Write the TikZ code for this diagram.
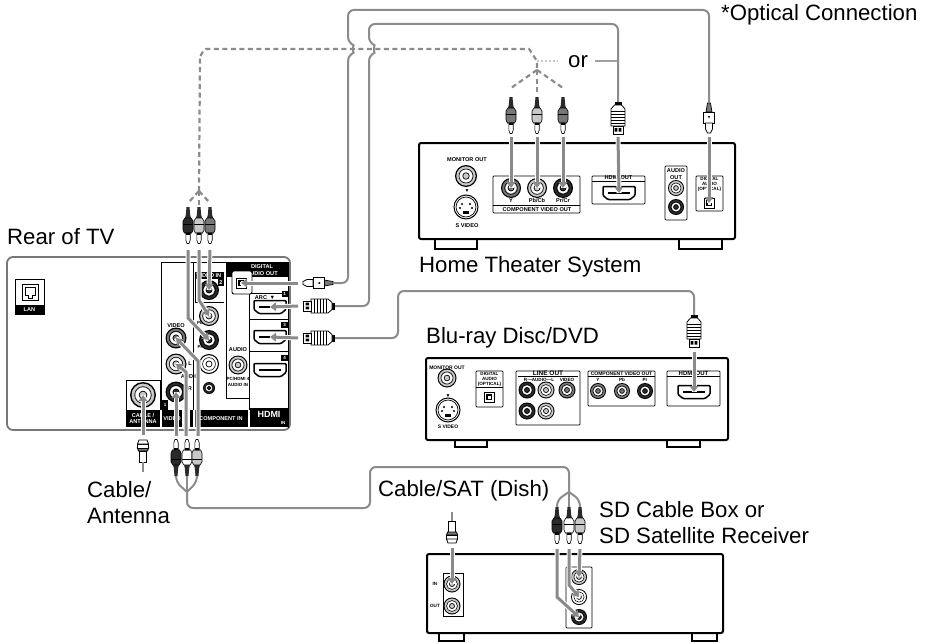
\documentclass[tikz,border=0pt]{standalone}
\usepackage{fontspec}
\setmainfont{Liberation Sans}
\usetikzlibrary{arrows.meta}
\definecolor{cab}{HTML}{8C8C8C}
\definecolor{arr}{HTML}{8A8A8A}
\definecolor{dk}{HTML}{2A2A2A}
\definecolor{md}{HTML}{777777}
\definecolor{lt}{HTML}{C8C8C8}
\tikzset{
  cable/.style={draw=cab,line width=2pt,rounded corners=6pt},
  dcable/.style={draw=cab,line width=2.2pt,dash pattern=on 5pt off 3.5pt},
  inarrow/.style={draw=arr,line width=3pt,-{Triangle[length=6pt,width=8.5pt]},
     preaction={draw=white,line width=5pt,-}},
  panel/.style={draw=black,line width=.7pt,rounded corners=.8pt},
  chassis/.style={draw=black,line width=2pt,rounded corners=2pt},
  chassisfoot/.style={draw=black,line width=1.6pt},
  big/.style={font=\fontsize{22.2}{24}\selectfont,inner sep=0pt,anchor=base west},
  tiny/.style={font=\fontsize{5.6}{6.2}\selectfont\bfseries,inner sep=0pt,align=center,text=black},
  tinyw/.style={font=\fontsize{5.6}{6.2}\selectfont\bfseries,inner sep=0pt,align=center,text=white},
}
% name x y r ringcolour
\newcommand{\jack}[5]{%
  \coordinate (#1) at (#2,#3);
  \fill[black] (#1) circle[radius=#4];
  \fill[#5] (#1) circle[radius=#4*.88];
  \draw[black,line width=.6pt] (#1) circle[radius=#4*.64];
  \fill[white] (#1) circle[radius=#4*.56];
  \draw[black,line width=.7pt,fill=#5] (#1) circle[radius=#4*.3];
}
% name x y rot fill
\newcommand{\rcaplug}[5]{%
  \coordinate (#1) at (#2,#3);
  \begin{scope}[shift={(#2,#3)},rotate=#4]
    \fill[dk] (-1.5,0) -- (1.5,0) -- (2.2,8) -- (3,11) -- (-3,11) -- (-2.2,8) -- cycle;
    \draw[black,line width=.6pt,fill=#5] (-3,11) -- (3,11) -- (5,14) -- (5,23) -- (3.6,26) -- (-3.6,26) -- (-5,23) -- (-5,14) -- cycle;
    \draw[black,line width=.5pt] (-5,17) -- (5,17);
    \draw[black,line width=.6pt,fill=white] (-2.2,26) -- (2.2,26) -- (2.2,33) -- (1,36.5) -- (-1,36.5) -- (-2.2,33) -- cycle;
    \fill[black] (-2.2,26) rectangle (2.2,28);
  \end{scope}}
% name x y rot
\newcommand{\hdmiplug}[4]{%
  \coordinate (#1) at (#2,#3);
  \begin{scope}[shift={(#2,#3)},rotate=#4]
    \fill[black] (-3.5,0) rectangle (3.5,3);
    \draw[black,line width=.8pt,fill=white] (-3.5,3) -- (3.5,3) -- (7,7) -- (7,24) -- (-7,24) -- (-7,7) -- cycle;
    \foreach \yy in {9,12,15,18,21}{\draw[black,line width=.7pt] (-7,\yy) -- (7,\yy);}
    \draw[black,line width=.8pt,fill=white] (-5,24) rectangle (5,32);
    \fill[black] (-3.4,26) rectangle (-.6,29.5) (.6,26) rectangle (3.4,29.5);
  \end{scope}}
% name x y rot
\newcommand{\optplug}[4]{%
  \coordinate (#1) at (#2,#3);
  \begin{scope}[shift={(#2,#3)},rotate=#4]
    \draw[black,line width=.7pt,fill=md] (-1.5,0) -- (1.5,0) -- (3,9) -- (-3,9) -- cycle;
    \draw[black,line width=.8pt,fill=white] (-5.5,9) rectangle (5.5,20);
    \draw[black,line width=.8pt,fill=white] (-3.5,20) -- (3.5,20) -- (3.5,26) -- (1.5,30) -- (-1.5,30) -- (-3.5,26) -- cycle;
    \fill[black] (-1,13) -- (1,13) -- (0,15.5) -- cycle;
  \end{scope}}
% name x y rot
\newcommand{\fplug}[4]{%
  \coordinate (#1) at (#2,#3);
  \begin{scope}[shift={(#2,#3)},rotate=#4]
    \draw[black,line width=.8pt,fill=white] (-3.5,0) rectangle (3.5,11);
    \draw[black,line width=.8pt,fill=md] (-4.5,11) -- (4.5,11) -- (5.5,14) -- (-5.5,14) -- cycle;
    \draw[black,line width=.8pt,fill=white] (-5.5,14) rectangle (5.5,18);
    \draw[black,line width=.8pt,fill=white] (-5.5,18) -- (5.5,18) -- (4,22) -- (-4,22) -- cycle;
  \end{scope}}
% x y : hdmi port
\newcommand{\hdmiport}[3]{%
  \coordinate (#1) at (#2,#3);
  \begin{scope}[shift={(#2,#3)}]
    \draw[black,line width=1.5pt,fill=white,rounded corners=1pt] (-16,-6.5) -- (16,-6.5) -- (16,2.5) -- (11,6.5) -- (-11,6.5) -- (-16,2.5) -- cycle;
    \fill[black] (-11,-.8) rectangle (11,1.2);
  \end{scope}}
\newcommand{\svid}[3]{%
  \coordinate (#1) at (#2,#3);
  \begin{scope}[shift={(#2,#3)}]
    \draw[black,line width=1pt,fill=white] (0,0) circle[radius=12];
    \draw[black,line width=.7pt] (0,0) circle[radius=10];
    \foreach \a/\b in {-4/-3,4/-3,-6/1,6/1}{\fill[black] (\a,\b) circle[radius=1.1];}
    \fill[black] (-3,4) rectangle (3,7);
  \end{scope}}
\newcommand{\optport}[3]{%
  \coordinate (#1) at (#2,#3);
  \draw[black,line width=1pt,fill=white] (#2-5,#3-5) rectangle (#2+5,#3+5);
  \fill[black] (#2-3,#3-3) rectangle (#2+3,#3+3);
  \fill[white] (#2-1.5,#3-1.5) rectangle (#2+1.5,#3+1.5);
}
\begin{document}
\begin{tikzpicture}[x=1pt,y=-1pt]
\useasboundingbox[fill=white] (0,0) rectangle (925,642);

% ===== Rear of TV
\node[big] (ltv) at (7,244) {Rear of TV};
\draw[draw=md,line width=1.8pt,rounded corners=6pt] (7,257) rectangle (290,430);
% LAN
\draw[black,line width=.8pt] (15,279) rectangle (44,314);
\fill[black] (15,305) rectangle (44,314);
\node[tinyw] (llan) at (29.5,310) {LAN};
\draw[black,line width=1pt] (22,284) rectangle (38,300);
\draw[black,line width=.7pt] (25,287) -- (35,287) -- (35,295) -- (32,295) -- (32,298) -- (28,298) -- (28,295) -- (25,295) -- cycle;
% panel outlines
\draw[black,line width=.8pt] (161,262) -- (161,410);
\draw[black,line width=.8pt] (161,262) -- (227,262);
\draw[black,line width=.8pt] (193,262) -- (193,410);
\draw[black,line width=.8pt] (226,262) -- (226,398) -- (249,398);
\draw[black,line width=.8pt] (249,294) -- (249,410);
\draw[black,line width=.8pt] (288,262) -- (288,428);
\fill[black] (227,262) rectangle (288,277);
\node[tinyw] (ldig) at (262,270) {DIGITAL\\AUDIO OUT};
\draw[black,line width=.8pt] (249,293) -- (288,293);
\draw[black,line width=.8pt] (249,319) -- (288,319);
\draw[black,line width=.8pt] (249,351) -- (288,351);
% video in 2
\fill[black] (195,272) rectangle (224,279);
\node[tinyw] (lvin) at (209,276) {VIDEO IN};
\fill[black] (218,279) rectangle (224,286);
\node[tinyw] (l2) at (221,283) {2};
\draw[black,line width=.8pt] (195,279) -- (195,302) -- (224,302);
% jacks
\jack{jy}{209}{290}{10}{dk}
\jack{jpb}{209}{316}{10}{lt}
\jack{jpr}{209}{340}{10}{dk}
\jack{jrc}{209}{364}{10}{white}
\jack{jsm}{209}{388}{6}{dk}
\jack{jvid}{176}{338}{10.5}{md}
\jack{jl}{176}{364}{10.5}{lt}
\jack{jr}{176}{392}{10.5}{dk}
\jack{jaud}{238}{365}{9.5}{lt}
\node[tiny] (lvideo) at (176,326) {VIDEO};
\node[tiny] (lpb) at (200,323) {\fontsize{4.5}{5}\selectfont Pb};
\node[tiny] (lpr) at (200,347) {\fontsize{4.5}{5}\selectfont Pr};
\node[tiny] (ll) at (190,364) {L};
\node[tiny] (lau) at (190,377) {AUDIO};
\node[tiny] (lrr) at (190,389) {R};
\node[tiny] (laudio) at (238,350) {AUDIO};
\node[tiny,font=\fontsize{4.5}{5.4}\selectfont\bfseries] (lpc) at (238,382) {PC/HDMI 4\\AUDIO IN};
% HDMI ports
\node[tiny] (larc) at (265,298) {ARC \,▼};
\fill[black] (282,291) rectangle (288,297);
\hdmiport{h1}{270}{307}
\hdmiport{h3}{270}{337}
\hdmiport{h4}{270}{370}
\fill[black] (281,322) rectangle (288,328);
\fill[black] (281,355) rectangle (288,361);
\node[tinyw,font=\fontsize{4.5}{5}\selectfont\bfseries] (l1h) at (284.5,294) {1};
\node[tinyw,font=\fontsize{4.5}{5}\selectfont\bfseries] (l3h) at (284.5,325) {3};
\node[tinyw,font=\fontsize{4.5}{5}\selectfont\bfseries] (l4h) at (284.5,358) {4};
% optical port
\draw[black,line width=.9pt,fill=white,rounded corners=2pt] (232,271) rectangle (252,294);
\optport{jopt}{241}{283}
% bottom strip
\draw[black,line width=.8pt] (126,380) -- (160,380) -- (160,410);
\draw[black,line width=.8pt] (126,380) -- (126,410);
\fill[black] (126,410) rectangle (160,427);
\node[tinyw] (lcab) at (143,418.5) {CABLE /\\ANTENNA};
\jack{jant}{143}{395}{13}{lt}
\fill[black] (162,410) rectangle (182,427);
\node[tinyw] (lvd) at (172,418.5) {VIDEO};
\fill[black] (162,400) rectangle (168,410);
\node[tinyw,font=\fontsize{4.5}{5}\selectfont\bfseries] (lone) at (165,405) {1};
\fill[black] (190,410) rectangle (193,427);
\fill[black] (195,410) rectangle (248,427);
\node[tinyw] (lcomp) at (221,418.5) {COMPONENT IN};
\fill[black] (250,408) rectangle (288,427);
\node[tinyw,font=\fontsize{9}{9}\selectfont\bfseries] (lhd) at (269,414) {HDMI};
\node[tinyw,font=\fontsize{4.5}{5}\selectfont\bfseries] (lin) at (283,423) {IN};

% ===== Home Theater System
\draw[chassisfoot] (435,239) -- (435,249) -- (477,249) -- (477,239);
\draw[chassisfoot] (679,239) -- (679,249) -- (722,249) -- (722,239);
\draw[chassis] (419,143) rectangle (735,239);
\node[tiny] (lhm) at (467,160) {MONITOR OUT};
\jack{hmon}{466}{176}{11}{lt}
\node[tiny,font=\fontsize{5}{5}\selectfont] (lhtri) at (467,191) {▼};
\svid{hsv}{466}{207}
\node[tiny] (lhsv) at (467,226) {S VIDEO};
\draw[panel] (493,176) rectangle (580,213);
\draw[black,line width=.7pt] (493,205) -- (580,205);
\jack{hy}{511}{188}{10}{md}
\jack{hb}{537}{188}{10}{lt}
\jack{hr}{563}{188}{10}{dk}
\node[tiny] (lhy) at (511,200.5) {Y};
\node[tiny] (lhb) at (537,200.5) {Pb/Cb};
\node[tiny] (lhr) at (563,200.5) {Pr/Cr};
\node[tiny] (lhc) at (537,209.5) {COMPONENT VIDEO OUT};
\draw[panel] (592,176) rectangle (645,204);
\draw[black,line width=.7pt] (592,181) -- (645,181);
\node[tiny] (lho) at (618.5,178) {HDMI OUT};
\hdmiport{hh}{619}{193}
\draw[panel] (665,166) rectangle (687,220);
\node[tiny] (lha) at (676,174) {AUDIO\\OUT};
\jack{ha}{676}{188}{8}{lt}
\jack{hb2}{676}{207}{8}{dk}
\draw[panel] (696,176) rectangle (723,211);
\node[tiny,font=\fontsize{4.6}{5}\selectfont\bfseries] (lho2) at (709.5,184.5) {DIGITAL\\AUDIO\\(OPTICAL)};
\optport{hopt}{709}{203}
\node[big] (lhome) at (419,272) {Home Theater System};

% ===== Blu-ray
\node[big] (lblu) at (426,343) {Blu-ray Disc/DVD};
\draw[chassisfoot] (455,440) -- (455,447) -- (487,447) -- (487,440);
\draw[chassisfoot] (667,440) -- (667,447) -- (700,447) -- (700,440);
\draw[chassis] (426,358) rectangle (728,440);
\node[tiny,font=\fontsize{5}{5.4}\selectfont\bfseries] (lbm) at (447,368) {MONITOR OUT};
\jack{bmon}{447}{378}{9.5}{lt}
\node[tiny,font=\fontsize{5}{5}\selectfont] (lbtri) at (448,396) {▼};
\svid{bsv}{448}{410}
\node[tiny,font=\fontsize{5}{5.4}\selectfont\bfseries] (lbsv) at (448,427) {S VIDEO};
\draw[panel] (476,371) rectangle (503,407);
\draw[black,line width=.7pt] (476,387) -- (503,387);
\node[tiny,font=\fontsize{4.6}{5}\selectfont\bfseries] (lbo) at (489.5,379) {DIGITAL\\AUDIO\\(OPTICAL)};
\optport{bopt}{489}{397}
\draw[panel] (516,371) rectangle (580,425);
\node[tiny,font=\fontsize{6.5}{7}\selectfont\bfseries] (lbl) at (548,373.5) {LINE OUT};
\draw[black,line width=.7pt] (518,376.5) -- (578,376.5);
\node[tiny,font=\fontsize{4.6}{5}\selectfont\bfseries] (lbra) at (539,379.5) {R—AUDIO—L};
\node[tiny,font=\fontsize{4.6}{5}\selectfont\bfseries] (lbv) at (567,379.5) {VIDEO};
\jack{bl1}{527}{390}{8.5}{dk}
\jack{bl2}{546}{390}{8.5}{lt}
\jack{bl3}{567}{390}{8.5}{md}
\jack{bl4}{527}{411}{8.5}{dk}
\jack{bl5}{546}{411}{8.5}{lt}
\draw[panel] (588,371) rectangle (655,406);
\draw[black,line width=.7pt] (588,376.5) -- (655,376.5);
\node[tiny,font=\fontsize{5}{5.4}\selectfont\bfseries] (lbc) at (621.5,373.5) {COMPONENT VIDEO OUT};
\node[tiny,font=\fontsize{4.6}{5}\selectfont\bfseries] (lbcy) at (598,379.5) {Y};
\node[tiny,font=\fontsize{4.6}{5}\selectfont\bfseries] (lbcb) at (622,379.5) {Pb};
\node[tiny,font=\fontsize{4.6}{5}\selectfont\bfseries] (lbcr) at (645,379.5) {Pr};
\jack{bc1}{598}{391}{8}{md}
\jack{bc2}{622}{391}{8}{md}
\jack{bc3}{645}{391}{8}{dk}
\draw[panel] (667,371) rectangle (720,406);
\draw[black,line width=.7pt] (667,376.5) -- (720,376.5);
\node[tiny,font=\fontsize{6}{7}\selectfont\bfseries] (lbho) at (693.5,373.5) {HDMI OUT};
\hdmiport{bh}{694}{392}

% ===== SD box
\draw[chassisfoot] (439,633) -- (439,641) -- (464,641) -- (464,633);
\draw[chassisfoot] (692,633) -- (692,641) -- (717,641) -- (717,633);
\draw[chassis] (427,554) rectangle (723,633);
\draw[black,line width=.8pt] (443,573) rectangle (463,616);
\node[tiny,font=\fontsize{4.6}{5}\selectfont\bfseries] (lsi) at (435,584) {IN};
\node[tiny,font=\fontsize{4.6}{5}\selectfont\bfseries] (lso) at (435,606) {OUT};
\jack{sin}{452}{584}{8.5}{lt}
\jack{sout}{452}{606}{8.5}{lt}
\draw[panel] (566,567) rectangle (592,628);
\jack{s1}{579}{577}{8}{lt}
\jack{s2}{579}{597}{8}{white}
\jack{s3}{579}{617}{8}{dk}
\node[big] (lsd1) at (599,517) {SD Cable Box or};
\node[big] (lsd2) at (599,543) {SD Satellite Receiver};
\node[big] (lsat) at (378,496) {Cable/SAT (Dish)};
\node[big] (lant1) at (87,497) {Cable/};
\node[big] (lant2) at (87,523) {Antenna};
\node[big] (lopt) at (721,21) {*Optical Connection};
\node[big] (lor) at (568,67) {or};

% ===== cables: free points
\coordinate (tvt) at (199,191);
\coordinate (htj) at (537,70);
\coordinate (hto) at (537,61);
\coordinate (sdj) at (569,492);
\coordinate (tvj) at (187,492);
\coordinate (fa) at (143,472);
\coordinate (fb) at (452,512);
\coordinate (orL) at (558,61);
\coordinate (orR) at (595,61);
\coordinate (orT) at (618,61);

% dashed component
\draw[dcable] (tvt) -- (200,56) to[out=-90,in=180] (206,49) -- (529,49) -- (537,61) -- (htj);
\draw[dcable] (htj) -- (511,88);
\draw[dcable] (htj) -- (537,95);
\draw[dcable] (htj) -- (563,88);
\draw[dcable] (tvt) -- (188,203);
\draw[dcable] (tvt) -- (199,205);
\draw[dcable] (tvt) -- (210,203);
\draw[draw=lt,line width=1.5pt,dash pattern=on 2pt off 2pt] (hto) -- (orL);
\draw[draw=lt!80!black,line width=1.5pt] (orR) -- (orT);

% plugs (and their named ends)
\rcaplug{pa}{188}{207}{0}{dk}
\rcaplug{pb}{199}{207}{0}{lt}
\rcaplug{pc}{210}{207}{0}{md}
\rcaplug{qa}{511}{97}{0}{md}
\rcaplug{qb}{537}{97}{0}{lt}
\rcaplug{qc}{563}{97}{0}{md}
\hdmiplug{qh}{618}{102}{0}
\optplug{qo}{709}{103}{0}
\optplug{po}{333}{283}{-90}
\hdmiplug{ph1}{335}{306}{-90}
\hdmiplug{ph3}{335}{338}{-90}
\hdmiplug{qbh}{694}{315}{0}
\rcaplug{ra}{176}{476}{180}{dk}
\rcaplug{rb}{187}{476}{180}{white}
\rcaplug{rc}{197}{476}{180}{lt}
\rcaplug{ua}{557}{507}{0}{dk}
\rcaplug{ub}{569}{507}{0}{white}
\rcaplug{uc}{580}{507}{0}{lt}
\fplug{fat}{143}{462}{180}
\fplug{fbt}{452}{521}{0}

% solid cables
\draw[cable] (po) -- (348,283) -- (348,55) .. controls (353,53) and (353,45) .. (348,43) -- (348,10) -- (709,10) -- (qo);
\draw[cable] (ph1) -- (369,306) -- (369,55) .. controls (374,53) and (374,45) .. (369,43) -- (369,24) -- (618,24) -- (qh);
\draw[cable] (ph3) -- (398,338) -- (398,291) -- (694,291) -- (qbh);
\draw[cable] (ra) -- (176,482) -- (tvj);
\draw[cable] (rc) -- (197,482) -- (tvj);
\draw[cable] (rb) -- (tvj);
\draw[cable] (tvj) -- (187,508) -- (370,508) -- (370,467) -- (569,467) -- (sdj);
\draw[cable] (ua) -- (557,500) -- (sdj);
\draw[cable] (uc) -- (580,500) -- (sdj);
\draw[cable] (ub) -- (sdj);
\draw[draw=lt!70!black,line width=2pt] (fat) -- (fa);
\draw[draw=lt!70!black,line width=2pt] (fbt) -- (fb);

% insertion arrows
\coordinate (apa) at (188,250);
\coordinate (apb) at (199,250);
\coordinate (apc) at (210,250);
\draw[inarrow] (apa) -- (188,318) -- (jpr);
\draw[inarrow] (apb) -- (199,300) -- (jpb);
\draw[inarrow] (apc) -- (jy);
\coordinate (ara) at (176,436);
\coordinate (arb) at (186,436);
\coordinate (arc) at (198,436);
\draw[inarrow] (ara) -- (jr);
\draw[inarrow] (arb) -- (186,372) -- (jl);
\draw[inarrow] (arc) -- (198,361) -- (jvid);
\coordinate (aant) at (143,435);
\draw[inarrow] (aant) -- (jant);
\coordinate (aop) at (298,283);
\coordinate (ah1) at (298,306);
\coordinate (ah3) at (298,338);
\draw[inarrow] (aop) -- (jopt);
\draw[inarrow] (ah1) -- (h1);
\draw[inarrow] (ah3) -- (h3);
\coordinate (aqa) at (511,137);
\coordinate (aqb) at (537,137);
\coordinate (aqc) at (563,137);
\coordinate (aqh) at (618,137);
\coordinate (aqo) at (709,137);
\draw[inarrow] (aqa) -- (hy);
\draw[inarrow] (aqb) -- (hb);
\draw[inarrow] (aqc) -- (hr);
\draw[inarrow] (aqh) -- (hh);
\draw[inarrow] (aqo) -- (hopt);
\coordinate (abh) at (694,352);
\draw[inarrow] (abh) -- (bh);
\coordinate (af) at (452,548);
\draw[inarrow] (af) -- (sin);
\coordinate (aua) at (557,549);
\coordinate (aub) at (569,549);
\coordinate (auc) at (580,549);
\draw[inarrow] (auc) -- (s1);
\draw[inarrow] (aub) -- (569,585) -- (s2);
\draw[inarrow] (aua) -- (557,597) -- (s3);
\end{tikzpicture}
\end{document}
